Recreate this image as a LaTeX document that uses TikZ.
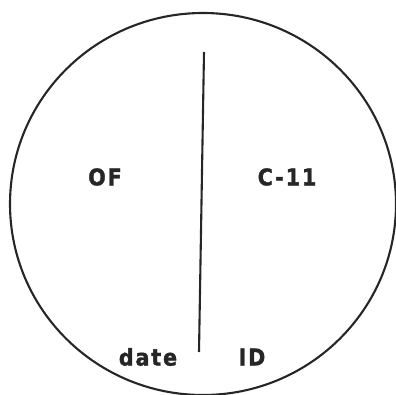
\documentclass[tikz,border=0pt]{standalone}
\usepackage{fontspec}
\setmainfont{DejaVu Sans}
\newfontfamily\plotfont[LetterSpace=8,FakeBold=1.5]{DejaVu Sans Condensed Bold}
\begin{document}
\begin{tikzpicture}[x=1pt,y=-1pt,
  lbl/.style={font=\plotfont\fontsize{23}{25}\selectfont, text=black!85, inner sep=0pt},
  outline/.style={line width=2.1pt, black!85}]
\useasboundingbox (0,0) rectangle (396,395);
\draw[outline] (203,204) ellipse [x radius=193, y radius=191];
\coordinate (top) at (204,52);
\coordinate (bot) at (199,352);
\draw[outline] (top) -- (bot);
\node[lbl] (of) at (105,177) {OF};
\node[lbl] (c11) at (287,177) {C-11};
\node[lbl] (date) at (148,357) {date};
\node[lbl] (id) at (252,357) {ID};
\end{tikzpicture}
\end{document}
